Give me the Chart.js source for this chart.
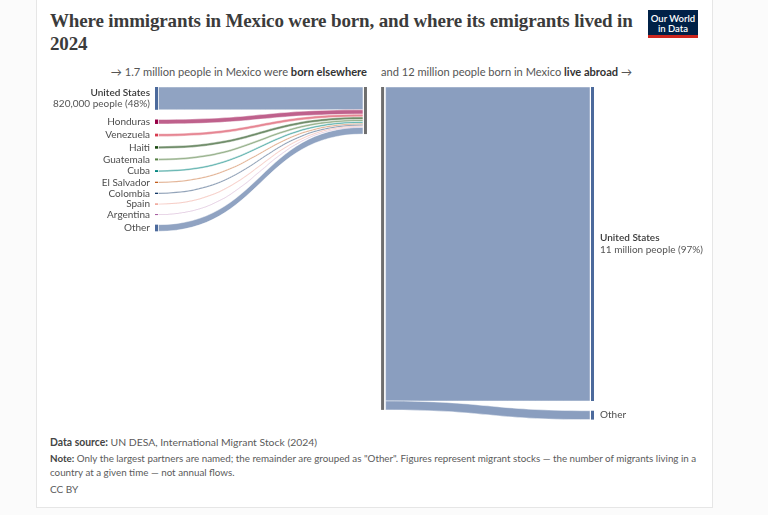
<!DOCTYPE html>
<html><head><meta charset="utf-8">
<script src="https://cdn.jsdelivr.net/npm/chart.js@4/dist/chart.umd.min.js"></script>
<style>
html,body{margin:0;padding:0;width:768px;height:515px;overflow:hidden;background:#fbfbfb;font-family:Lato,"Noto Sans",sans-serif;}
#card{position:absolute;left:36px;top:-1px;width:675px;height:507px;background:#fff;border:1px solid #e6e6e6;}
#title{position:absolute;left:50px;top:9px;width:600px;white-space:nowrap;font-family:"Liberation Serif",serif;font-weight:bold;font-size:19px;letter-spacing:-0.15px;line-height:23px;color:#3b3b3b;}
#logo{position:absolute;left:648px;top:10px;width:50px;height:28px;background:#002147;color:#fff;font-size:9.5px;line-height:10px;text-align:center;box-sizing:border-box;padding-top:4px;border-bottom:3px solid #ce261e;font-weight:600}
.hdr{position:absolute;top:64px;font-size:11.1px;line-height:16px;color:#555;white-space:nowrap}
.hdr b{color:#333}
#hl{right:401px}
#hr{left:381px}
.ft{position:absolute;left:50px;line-height:14px;color:#5b5b5b;white-space:nowrap}
.ft b{color:#444;font-weight:bold}
canvas{position:absolute;left:0;top:0}
</style></head>
<body>
<div id="card"></div>
<div id="title">Where immigrants in Mexico were born, and where its emigrants lived in<br>2024</div>
<div id="logo">Our World<br>in Data</div>
<div class="hdr" id="hl">→ 1.7 million people in Mexico were <b>born elsewhere</b></div>
<div class="hdr" id="hr">and 12 million people born in Mexico <b>live abroad</b> →</div>
<div class="ft" style="top:435px;font-size:10.4px"><b>Data source:</b> UN DESA, International Migrant Stock (2024)</div>
<div class="ft" style="top:451px;font-size:9.8px"><b>Note:</b> Only the largest partners are named; the remainder are grouped as "Other". Figures represent migrant stocks — the number of migrants living in a<br>country at a given time — not annual flows.</div>
<div class="ft" style="top:482px;font-size:10px">CC BY</div>
<canvas id="c" width="768" height="515"></canvas>
<script>
// ---- data (thousands of people) ----
const originCountries = ["United States","Honduras","Venezuela","Haiti","Guatemala","Cuba","El Salvador","Colombia","Spain","Argentina","Other"];
const immigrantsThousands = [820,160,98,92,72,66,46,44,30,26,240];
const originColors = ["#4c6a9c","#970046","#d73c50","#18470f","#578145","#00847e","#c05917","#00295b","#e56e5a","#a2559c","#4c6a9c"];
const originSubLabels = ["820,000 people (48%)","","","","","","","","","",""];

const destinationCountries = ["United States","Other"];
const emigrantsThousands = [11300,320];
const destinationColors = ["#4c6a9c","#4c6a9c"];
const destinationSubLabels = ["11 million people (97%)",""];

// ---- layout constants ----
const NODE_GAP = 350;      // vertical gap between nodes, in value units
const COL_MID_L = 0.476, COL_MID_R = 0.515;
const NODE_W = 3;
const MID_COLOR = "#6e6e6e";

function hexA(h,a){const n=parseInt(h.slice(1),16);return `rgba(${n>>16&255},${n>>8&255},${n&255},${a})`;}

const sankey = {
  id:'sankey',
  afterDatasetsDraw(chart){
    const {ctx, scales:{x,y}} = chart;
    const X = v=>x.getPixelForValue(v), Y = v=>y.getPixelForValue(v);
    ctx.save();
    const ribbon=(x0,s0,s1,x1,t0,t1,col)=>{
      const xm=(x0+x1)/2;
      ctx.beginPath();
      ctx.moveTo(x0,s0);
      ctx.bezierCurveTo(xm,s0,xm,t0,x1,t0);
      ctx.lineTo(x1,t1);
      ctx.bezierCurveTo(xm,t1,xm,s1,x0,s1);
      ctx.closePath();
      ctx.fillStyle=col; ctx.fill();
      ctx.strokeStyle='rgba(255,255,255,0.9)'; ctx.lineWidth=0.5; ctx.stroke();
    };
    const rect=(x0,y0,y1,col)=>{
      const h=Math.max(y1-y0,1); const yc=(y0+y1)/2;
      ctx.fillStyle=col; ctx.fillRect(x0,yc-h/2,NODE_W,h);
    };
    const xL=X(0), xML=X(COL_MID_L), xMR=X(COL_MID_R), xR=X(1);
    let top=0, cum=0;
    const leftNodes=[];
    immigrantsThousands.forEach((v,i)=>{
      const nTop=top, nBot=top+v;
      ribbon(xL+NODE_W+0.5,Y(nTop),Y(nBot),xML-1,Y(cum),Y(cum+v),hexA(originColors[i],0.62));
      leftNodes.push([nTop,nBot]);
      cum+=v; top=nBot+NODE_GAP;
    });
    immigrantsThousands.forEach((v,i)=>rect(xL,Y(leftNodes[i][0]),Y(leftNodes[i][1]),originColors[i]));
    ctx.fillStyle=MID_COLOR; ctx.fillRect(xML,Y(0),NODE_W,Y(cum)-Y(0));
    let topR=0, cumR=0; const rightNodes=[];
    emigrantsThousands.forEach((v,i)=>{
      const nTop=topR, nBot=topR+v;
      ribbon(xMR+NODE_W+1.5,Y(cumR),Y(cumR+v),xR-NODE_W-1,Y(nTop),Y(nBot),hexA(destinationColors[i],0.65));
      rightNodes.push([nTop,nBot]);
      cumR+=v; topR=nBot+NODE_GAP;
    });
    emigrantsThousands.forEach((v,i)=>rect(xR-NODE_W,Y(rightNodes[i][0]),Y(rightNodes[i][1]),destinationColors[i]));
    ctx.fillStyle=MID_COLOR; ctx.fillRect(xMR,Y(0),NODE_W,Y(cumR)-Y(0));
    ctx.textBaseline='middle';
    const label=(names,subs,nodes,xp,align)=>{
      ctx.textAlign=align;
      names.forEach((n,i)=>{
        const yc=(Y(nodes[i][0])+Y(nodes[i][1]))/2;
        if(subs[i]){
          ctx.font='600 10px Lato'; ctx.fillStyle='#3a3a3a';
          ctx.fillText(n,xp,yc-5.8);
          ctx.font='10px Lato'; ctx.fillStyle='#555';
          ctx.fillText(subs[i],xp,yc+5.8);
        } else {
          ctx.font='10px Lato'; ctx.fillStyle='#4d4d4d';
          ctx.fillText(n,xp,yc);
        }
      });
    };
    label(originCountries,originSubLabels,leftNodes,xL-5,'right');
    label(destinationCountries,destinationSubLabels,rightNodes,xR+6,'left');
    ctx.restore();
  }
};

new Chart(document.getElementById('c'),{
  type:'scatter',
  data:{datasets:[]},
  options:{
    responsive:false, animation:false, events:[],
    layout:{padding:{left:155,right:174,top:87,bottom:89}},
    scales:{
      x:{type:'linear',display:false,min:0,max:1},
      y:{type:'linear',display:false,reverse:true,min:0,max:12200}
    },
    plugins:{legend:{display:false},tooltip:{enabled:false}}
  },
  plugins:[sankey]
});
</script>
</body></html>
